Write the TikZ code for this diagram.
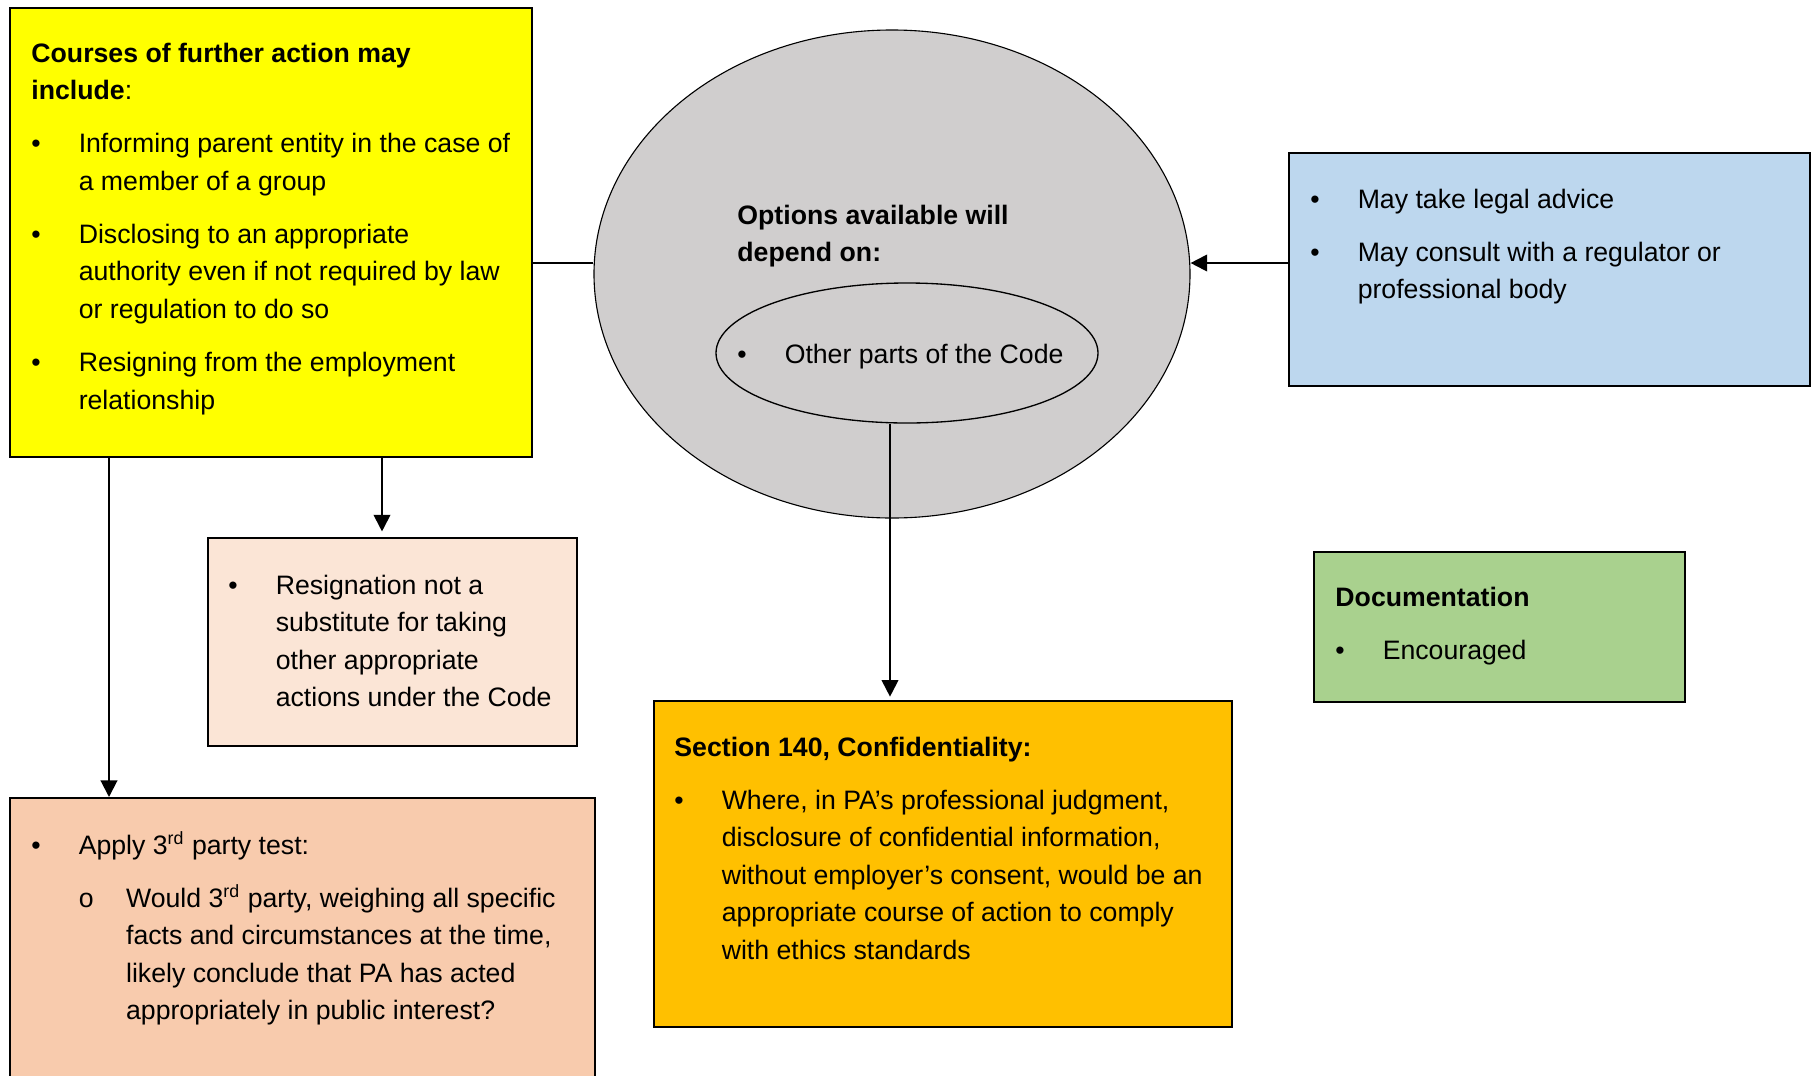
\documentclass[tikz,border=0pt]{standalone}
\usepackage{fontspec}
\setmainfont{Liberation Sans}
\usetikzlibrary{shapes.geometric,arrows.meta}

\definecolor{actyellow}{HTML}{FFFF00}
\definecolor{optgrey}{HTML}{D0CECE}
\definecolor{advblue}{HTML}{BDD7EE}
\definecolor{resnpeach}{HTML}{FBE5D6}
\definecolor{testsalmon}{HTML}{F8CBAD}
\definecolor{secorange}{HTML}{FFC000}
\definecolor{docgreen}{HTML}{A9D18E}

\newcommand{\boxfont}{\fontsize{12pt}{16.9pt}\selectfont\setlength{\parskip}{7pt}}
\newcommand{\bitem}[1]{\par\hangindent=21.3pt\hangafter=1\noindent\makebox[21.3pt][l]{\textbullet}#1}
\newcommand{\oitem}[1]{\par\hangindent=42.6pt\hangafter=1\noindent\hspace*{21.3pt}\makebox[21.3pt][l]{o}#1}
\newcommand{\boxtext}[1]{\parbox[t]{280pt}{\boxfont #1}}
\newcommand{\ord}{\textsuperscript{\footnotesize rd}}

\begin{document}
\begin{tikzpicture}[x=0.45pt,y=-0.45pt,
	panel/.style={draw,line width=0.8pt,anchor=north west,inner sep=0pt},
	txt/.style={anchor=base west,inner sep=0pt},
	link/.style={line width=0.9pt},
	arr/.style={link,-{Triangle[width=7.5pt,length=7.5pt]}}]
	\useasboundingbox (0,0) rectangle (1811,1075);
	% boxes
	\node[panel,fill=actyellow,minimum width=234.9pt,minimum height=202.05pt] (act) at (9,7) {};
	\node[panel,fill=advblue,minimum width=234.45pt,minimum height=104.85pt] (adv) at (1288,152) {};
	\node[panel,fill=resnpeach,minimum width=166.05pt,minimum height=93.6pt] (resn) at (207,537) {};
	\node[panel,fill=testsalmon,minimum width=263.25pt,minimum height=129.6pt] (test) at (9,797) {};
	\node[panel,fill=secorange,minimum width=260.1pt,minimum height=146.7pt] (sec) at (653,700) {};
	\node[panel,fill=docgreen,minimum width=166.95pt,minimum height=67.5pt] (doc) at (1313,551) {};
	\node[draw,ellipse,line width=0.5pt,fill=optgrey,inner sep=0pt,minimum width=268.2pt,minimum height=219.6pt] (opts) at (892,274) {};
	\node[draw,ellipse,line width=0.6pt,inner sep=0pt,minimum width=171.9pt,minimum height=63pt] (inner) at (907,353) {};
	% texts
	\node[txt] (actT) at ([shift={(22,55)}]act.north west) {\boxtext{
		\textbf{Courses of further action may}\\\textbf{include}:
		\bitem{Informing parent entity in the case of\\a member of a group}
		\bitem{Disclosing to an appropriate\\authority even if not required by law\\or regulation to do so}
		\bitem{Resigning from the employment\\relationship}}};
	\node[txt] (optsT) at ([shift={(-155,-50)}]opts.center) {\boxtext{
		\textbf{Options available will}\\\textbf{depend on:}}};
	\node[txt] (innerT) at ([shift={(-170,10)}]inner.center) {\boxtext{
		\bitem{Other parts of the Code}}};
	\node[txt] (advT) at ([shift={(22,56)}]adv.north west) {\boxtext{
		\bitem{May take legal advice}
		\bitem{May consult with a regulator or\\professional body}}};
	\node[txt] (resnT) at ([shift={(21,57)}]resn.north west) {\boxtext{
		\bitem{Resignation not a\\substitute for taking\\other appropriate\\actions under the Code}}};
	\node[txt] (testT) at ([shift={(22,57)}]test.north west) {\boxtext{
		\bitem{Apply 3\ord{} party test:}
		\oitem{Would 3\ord{} party, weighing all specific\\facts and circumstances at the time,\\likely conclude that PA has acted\\appropriately in public interest?}}};
	\node[txt] (secT) at ([shift={(21,56)}]sec.north west) {\boxtext{
		\textbf{Section 140, Confidentiality:}
		\bitem{Where, in PA’s professional judgment,\\disclosure of confidential information,\\without employer’s consent, would be an\\appropriate course of action to comply\\with ethics standards}}};
	\node[txt] (docT) at ([shift={(22,55)}]doc.north west) {\boxtext{
		\textbf{Documentation}
		\bitem{Encouraged}}};
	% connectors
	\coordinate (lk) at ([shift={(0,-11)}]opts.west);
	\coordinate (dn1) at ([shift={(100,0)}]act.south west);
	\coordinate (dn2) at ([shift={(373,0)}]act.south west);
	\coordinate (dn3) at ([shift={(-17,0)}]inner.south);
	\draw[link] (act.east |- lk) -- (lk);
	\draw[arr] (adv.west |- lk) -- (lk -| opts.east);
	\draw[arr] (dn1) -- (dn1 |- test.north);
	\draw[arr,shorten >=2.5pt] (dn2) -- (dn2 |- resn.north);
	\draw[arr,shorten >=1.5pt] (dn3) -- (dn3 |- sec.north);
\end{tikzpicture}
\end{document}
